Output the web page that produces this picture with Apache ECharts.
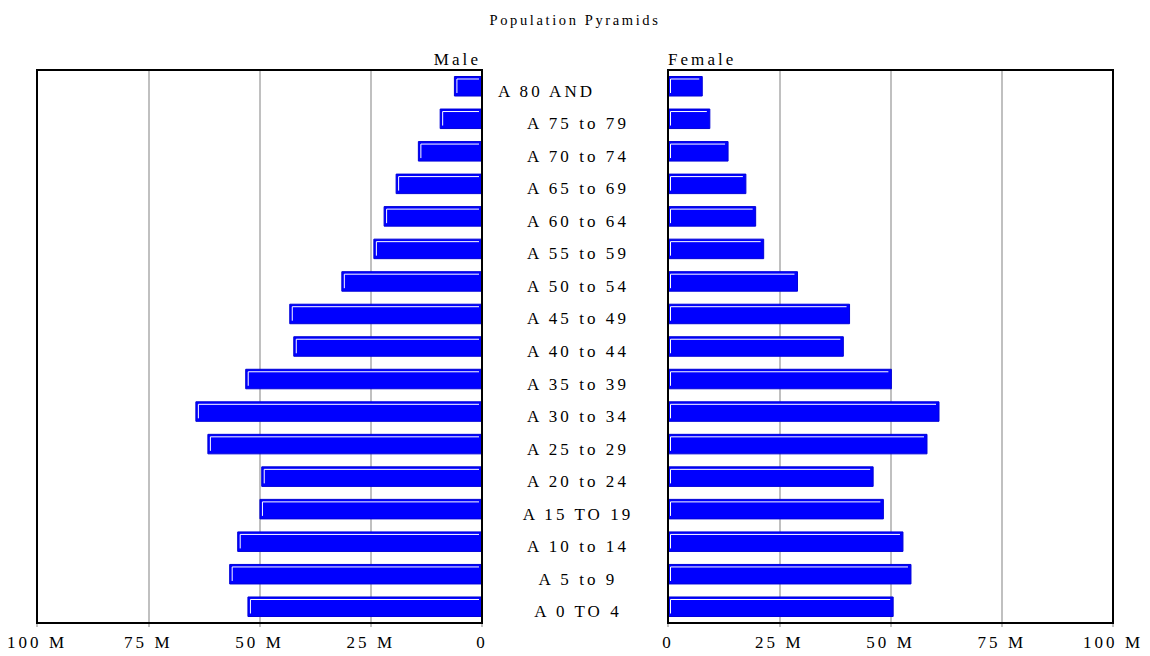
<!DOCTYPE html>
<html>
<head>
<meta charset="utf-8">
<script src="https://cdn.jsdelivr.net/npm/echarts@6/dist/echarts.min.js"></script>
<style>
  html, body { margin: 0; padding: 0; background: #fff; }
  #main { width: 1150px; height: 656px; }
  #main text { letter-spacing: 0.18em; }
</style>
</head>
<body>
<div id="main"></div>
<script>
const titleText = 'Population Pyramids';
const leftLabel = 'Male';
const rightLabel = 'Female';
const categories = ['A 80 AND','A 75 to 79','A 70 to 74','A 65 to 69','A 60 to 64','A 55 to 59','A 50 to 54','A 45 to 49','A 40 to 44','A 35 to 39','A 30 to 34','A 25 to 29','A 20 to 24','A 15 TO 19','A 10 to 14','A 5 to 9','A 0 TO 4'];
const male = [6.2, 9.4, 14.3, 19.3, 22.0, 24.3, 31.5, 43.2, 42.3, 53.1, 64.3, 61.6, 49.5, 49.9, 54.9, 56.7, 52.6];
const female = [7.7, 9.4, 13.5, 17.5, 19.7, 21.5, 29.1, 40.8, 39.4, 50.2, 60.9, 58.2, 46.1, 48.4, 52.8, 54.6, 50.6];
const tickValues = [0, 25, 50, 75, 100];
const tickLabels = ['0', '25 M', '50 M', '75 M', '100 M'];

const FONT = '"Liberation Serif", "Times New Roman", Times, serif';

function renderBar(params, api) {
  const v = api.value(0), c = api.value(1);
  const p0 = api.coord([0, c]);
  const p1 = api.coord([v, c]);
  const h = api.size([0, 1])[1] * 0.6;
  const xa = Math.min(p0[0], p1[0]);
  const xb = Math.max(p0[0], p1[0]);
  const y0 = p0[1] - h / 2;
  return {
    type: 'group',
    children: [
      { type: 'rect', shape: { x: xa, y: y0, width: xb - xa, height: h },
        style: { fill: '#0000ff', stroke: '#0000d8', lineWidth: 1 } },
      { type: 'polyline', shape: { points: [[xa + 2.5, y0 + h - 3], [xa + 2.5, y0 + 2.5], [xb - 3, y0 + 2.5]] },
        style: { stroke: '#ffffff', lineWidth: 1, fill: null } }
    ]
  };
}

function fmt(v) {
  const i = tickValues.indexOf(v);
  return i >= 0 ? tickLabels[i] : '';
}

const xCommon = {
  type: 'value', min: 0, max: 100, interval: 25,
  axisLine: { show: false },
  axisTick: { show: true, length: 4, lineStyle: { color: '#c0c0c0', width: 2 } },
  splitLine: { show: true, lineStyle: { color: '#c0c0c0', width: 2 } },
  axisLabel: { formatter: fmt, color: '#000', fontFamily: FONT, fontSize: 17, margin: 11, showMinLabel: true, showMaxLabel: true }
};

const catLabelStyle = { align: 'center', verticalAlign: 'top', lineHeight: 10, color: '#000', fontFamily: FONT, fontSize: 17 };
const catData = categories.map((c, i) => i === 0
  ? { value: c, textStyle: Object.assign({}, catLabelStyle, { padding: [0, 63, 0, 0] }) }
  : c);

const chart = echarts.init(document.getElementById('main'), null, { renderer: 'svg' });
chart.setOption({
  animation: false,
  backgroundColor: '#fff',
  title: {
    text: titleText, left: 'center', top: 7,
    textStyle: { fontFamily: FONT, fontSize: 14.5, fontWeight: 'normal', color: '#000' }
  },
  graphic: [
    { type: 'text', x: 481, y: 59, style: { text: leftLabel, textAlign: 'right', textVerticalAlign: 'middle', font: '17px "Liberation Serif", "Times New Roman", serif', fill: '#000' } },
    { type: 'text', x: 668, y: 59, style: { text: rightLabel, textAlign: 'left', textVerticalAlign: 'middle', font: '17px "Liberation Serif", "Times New Roman", serif', fill: '#000' } }
  ],
  grid: [
    { left: 37, right: 668, top: 70, bottom: 33, show: true, borderColor: '#000', borderWidth: 2, z: 10 },
    { left: 668, right: 37, top: 70, bottom: 33, show: true, borderColor: '#000', borderWidth: 2, z: 10 }
  ],
  xAxis: [
    Object.assign({}, xCommon, { gridIndex: 0, inverse: true }),
    Object.assign({}, xCommon, { gridIndex: 1 })
  ],
  yAxis: [
    { type: 'category', gridIndex: 0, data: catData, inverse: true, position: 'right',
      axisLine: { show: false }, axisTick: { show: false }, splitLine: { show: false },
      axisLabel: Object.assign({ margin: 96, interval: 0 }, catLabelStyle) },
    { type: 'category', gridIndex: 1, data: categories, inverse: true,
      axisLine: { show: false }, axisTick: { show: false }, splitLine: { show: false },
      axisLabel: { show: false } }
  ],
  series: [
    { type: 'custom', xAxisIndex: 0, yAxisIndex: 0, renderItem: renderBar, z: 2,
      encode: { x: 0, y: 1 }, data: male.map((v, i) => [v, i]) },
    { type: 'custom', xAxisIndex: 1, yAxisIndex: 1, renderItem: renderBar, z: 2,
      encode: { x: 0, y: 1 }, data: female.map((v, i) => [v, i]) }
  ]
});
</script>
</body>
</html>
